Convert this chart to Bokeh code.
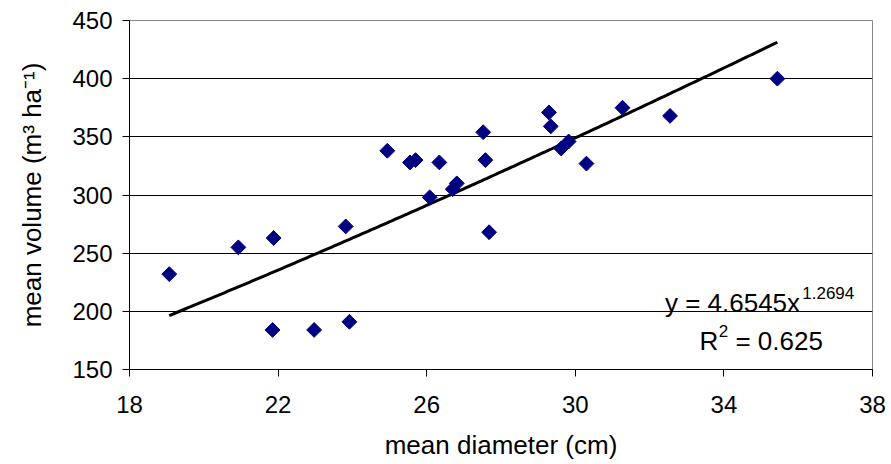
import numpy as np
from bokeh.plotting import figure
from bokeh.models import Range1d, FixedTicker, Label, ColumnDataSource
from bokeh.embed import file_html
from bokeh.resources import INLINE

# data
diameter = [19.07, 20.93, 21.88, 21.85, 22.97, 23.92, 23.82, 24.94, 25.55, 25.70,
            26.34, 26.08, 26.70, 26.81, 27.52, 27.58, 27.68, 29.29, 29.34, 29.62,
            29.82, 30.30, 31.27, 32.55, 35.44]
volume = [232, 255, 263, 184, 184, 191, 273, 338, 328, 330,
          328, 298, 305, 310, 354, 330, 268, 371, 359, 340,
          346, 327, 375, 368, 400]
x_ticks = [18, 22, 26, 30, 34, 38]
y_ticks = [150, 200, 250, 300, 350, 400, 450]
coef_a = 4.6545
coef_b = 1.2694
r_squared = 0.625

FONT = "Liberation Sans"

p = figure(width=891, height=464, output_backend="svg", toolbar_location=None,
           x_range=Range1d(18, 38), y_range=Range1d(150, 450),
           min_border_left=129, min_border_right=19, min_border_top=20, min_border_bottom=95)
p.background_fill_color = "white"
p.border_fill_color = "white"
p.outline_line_color = "#888888"
p.outline_line_width = 1

p.xgrid.visible = False
p.ygrid.ticker = FixedTicker(ticks=y_ticks)
p.ygrid.grid_line_color = "black"
p.ygrid.grid_line_width = 1

for ax in (p.xaxis[0], p.yaxis[0]):
    ax.axis_line_color = "black"
    ax.major_tick_line_color = "black"
    ax.minor_tick_line_color = None
    ax.major_tick_in = 0
    ax.major_tick_out = 7
    ax.major_label_text_font = FONT
    ax.major_label_text_font_size = "24px"
    ax.major_label_text_color = "black"
    ax.axis_label_text_font = FONT
    ax.axis_label_text_font_size = "26px"
    ax.axis_label_text_font_style = "normal"
    ax.axis_label_text_color = "black"

p.xaxis.ticker = FixedTicker(ticks=x_ticks)
p.yaxis.ticker = FixedTicker(ticks=y_ticks)
p.xaxis.major_label_standoff = 19
p.yaxis.major_label_standoff = 10
p.xaxis.axis_label = "mean diameter (cm)"
p.yaxis.axis_label = "mean volume (m\u00b3 ha\u207b\u00b9)"
p.xaxis.axis_label_standoff = 14
p.yaxis.axis_label_standoff = 22

# trend line from the fitted power equation
xt = np.linspace(min(diameter), max(diameter), 200)
yt = coef_a * xt ** coef_b
p.line(xt, yt, line_color="black", line_width=3)

src = ColumnDataSource(dict(x=diameter, y=volume))
p.scatter("x", "y", source=src, marker="square", size=10.5, angle=np.pi / 4,
          fill_color="#000080", line_color="#000080")

p.add_layout(Label(x=36.05, y=206.8, text="y = %.4fx" % coef_a, text_align="right",
                   text_baseline="alphabetic", text_font=FONT, text_font_size="26px",
                   text_color="black"))
p.add_layout(Label(x=36.11, y=215.6, text="%.4f" % coef_b, text_align="left",
                   text_baseline="alphabetic", text_font=FONT, text_font_size="17px",
                   text_color="black"))
p.add_layout(Label(x=33.34, y=174.4, text="R", text_align="left",
                   text_baseline="alphabetic", text_font=FONT, text_font_size="26px",
                   text_color="black"))
p.add_layout(Label(x=33.86, y=183.5, text="2", text_align="left",
                   text_baseline="alphabetic", text_font=FONT, text_font_size="17px",
                   text_color="black"))
p.add_layout(Label(x=34.31, y=174.4, text="= %.3f" % r_squared, text_align="left",
                   text_baseline="alphabetic", text_font=FONT, text_font_size="26px",
                   text_color="black"))

open("out.html", "w").write(file_html(p, INLINE))
